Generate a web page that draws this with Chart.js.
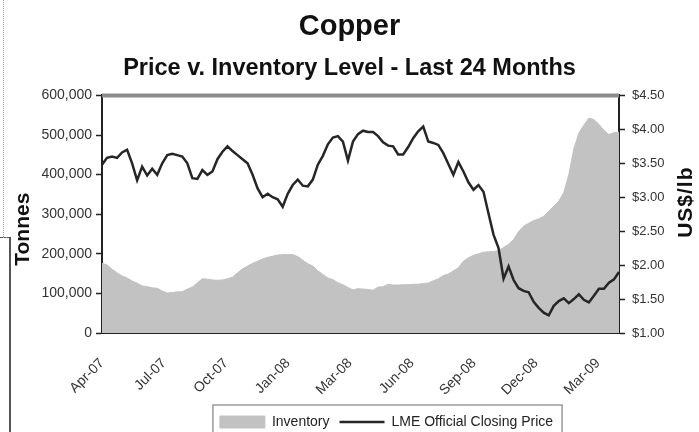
<!DOCTYPE html>
<html>
<head>
<meta charset="utf-8">
<script src="https://cdn.jsdelivr.net/npm/chart.js@4.4.1/dist/chart.umd.min.js"></script>
<style>
  html, body { margin: 0; padding: 0; background: #fff; overflow: hidden; }
  #wrap { position: relative; width: 699px; height: 439px; }
  .edge { position: absolute; }
</style>
</head>
<body>
<div id="wrap">
  <canvas id="chart" width="699" height="439"></canvas>
  <div class="edge" style="left:3px;top:0;height:237px;border-left:1px dotted #9a9a9a;"></div>
  <div class="edge" style="left:0;top:237px;width:10px;border-top:1px dashed #555;"></div>
  <div class="edge" style="left:9px;top:237px;height:202px;border-left:2px solid #555;"></div>
</div>
<script>
const FONT = "'Liberation Sans', Arial, sans-serif";

// weekly readings, Apr-07 .. Mar-09
const inventory = [
  176000, 172000, 161000, 152000, 144000, 139000, 131000, 126000, 119000, 117000,
  114000, 113000, 106000, 101000, 102000, 104000, 104000, 111000, 116000, 127000,
  137000, 136000, 134000, 133000, 134000, 137000, 141000, 152000, 162000, 169000,
  176000, 181000, 187000, 191000, 194000, 197000, 198000, 198000, 198000, 193000,
  184000, 175000, 169000, 157000, 148000, 139000, 135000, 127000, 122000, 115000,
  109000, 112000, 111000, 110000, 108000, 116000, 117000, 123000, 121000, 121000,
  122000, 122000, 123000, 123000, 125000, 126000, 132000, 137000, 145000, 149000,
  157000, 165000, 181000, 190000, 196000, 200000, 204000, 205000, 206000, 208000,
  216000, 224000, 236000, 256000, 270000, 277000, 284000, 288000, 295000, 307000,
  320000, 333000, 355000, 400000, 465000, 505000, 525000, 543000, 539000, 527000,
  512000, 501000, 506000, 507000
];

const price = [
  3.48, 3.58, 3.60, 3.58, 3.66, 3.70, 3.50, 3.25, 3.45, 3.32,
  3.42, 3.33, 3.50, 3.62, 3.64, 3.62, 3.60, 3.50, 3.28, 3.27,
  3.40, 3.33, 3.38, 3.56, 3.67, 3.75, 3.68, 3.62, 3.56, 3.50,
  3.33, 3.13, 3.00, 3.05, 3.00, 2.97, 2.86, 3.05, 3.18, 3.26,
  3.17, 3.16, 3.26, 3.48, 3.61, 3.78, 3.88, 3.90, 3.82, 3.54,
  3.82, 3.93, 3.98, 3.96, 3.96, 3.90, 3.81, 3.76, 3.75, 3.63,
  3.63, 3.74, 3.87, 3.97, 4.04, 3.82, 3.80, 3.77, 3.65, 3.49,
  3.33, 3.52, 3.38, 3.22, 3.11, 3.18, 3.08, 2.76, 2.45, 2.25,
  1.80, 1.98, 1.78, 1.66, 1.62, 1.60, 1.46, 1.37, 1.30, 1.26,
  1.40, 1.47, 1.51, 1.44, 1.50, 1.57, 1.49, 1.45, 1.55, 1.65,
  1.65, 1.74, 1.79, 1.90
];

const tickLabels = ["Apr-07", "Jul-07", "Oct-07", "Jan-08", "Mar-08", "Jun-08", "Sep-08", "Dec-08", "Mar-09"];
const tickWeeks = [0, 12.35, 24.7, 37.05, 49.4, 61.75, 74.1, 86.45, 98.8];

const weeks = price.map((_, i) => i);
const LEGEND_SHIFT = 37;

Chart.defaults.font.family = FONT;

// top frame line, legend border, axis titles
const decor = {
  id: "decor",
  afterLayout(chart) {
    const lg = chart.legend;
    if (lg) {
      lg.left += LEGEND_SHIFT;
      lg.right += LEGEND_SHIFT;
    }
  },
  afterDraw(chart) {
    const { ctx, chartArea: a } = chart;
    ctx.save();
    ctx.strokeStyle = "#8c8c8c";
    ctx.lineWidth = 4;
    ctx.beginPath();
    ctx.moveTo(a.left, a.top);
    ctx.lineTo(a.right, a.top);
    ctx.stroke();

    const hb = chart.legend && chart.legend.legendHitBoxes;
    if (hb && hb.length) {
      const first = hb[0], last = hb[hb.length - 1];
      ctx.strokeStyle = "#9a9a9a";
      ctx.lineWidth = 1.5;
      ctx.strokeRect(first.left - 7, first.top - 10, last.left + last.width - first.left + 16, 60);
    }
    ctx.restore();

    const mid = (a.top + a.bottom) / 2;
    ctx.save();
    ctx.fillStyle = "#111";
    ctx.textAlign = "center";
    ctx.textBaseline = "middle";
    ctx.font = "bold 21px " + FONT;
    ctx.translate(23, mid + 15);
    ctx.rotate(-Math.PI / 2);
    ctx.fillText("Tonnes", 0, 0);
    ctx.restore();

    ctx.save();
    ctx.fillStyle = "#111";
    ctx.textAlign = "center";
    ctx.textBaseline = "middle";
    ctx.font = "bold 21px " + FONT;
    ctx.letterSpacing = "1px";
    ctx.translate(a.right + 67, mid - 12);
    ctx.rotate(-Math.PI / 2);
    ctx.fillText("US$/lb", 0, 0);
    ctx.restore();
  }
};

new Chart(document.getElementById("chart"), {
  type: "line",
  data: {
    labels: weeks,
    datasets: [
      {
        label: "Inventory",
        data: inventory,
        yAxisID: "y",
        backgroundColor: "#c2c2c2",
        borderColor: "#c2c2c2",
        borderWidth: 1,
        fill: "origin",
        pointRadius: 0,
        pointStyle: "rect",
        order: 2
      },
      {
        label: "LME Official Closing Price",
        data: price,
        yAxisID: "y1",
        borderColor: "#262626",
        borderWidth: 2.5,
        fill: false,
        pointRadius: 0,
        pointStyle: "line",
        order: 1
      }
    ]
  },
  options: {
    responsive: false,
    animation: false,
    layout: { padding: 0 },
    plugins: {
      title: {
        display: true,
        text: "Copper",
        color: "#111",
        font: { size: 29, weight: "bold" },
        padding: { top: 10, bottom: 0 }
      },
      subtitle: {
        display: true,
        text: "Price v. Inventory Level - Last 24 Months",
        color: "#111",
        font: { size: 23.5, weight: "bold" },
        padding: { top: 9.6, bottom: 12.8 }
      },
      legend: {
        position: "bottom",
        labels: {
          usePointStyle: true,
          pointStyleWidth: 45,
          boxHeight: 12,
          padding: 10,
          color: "#222",
          font: { size: 14 },
          sort: (a, b) => a.datasetIndex - b.datasetIndex
        }
      },
      tooltip: { enabled: false }
    },
    scales: {
      x: {
        type: "linear",
        min: 0,
        max: 103,
        grid: { display: false },
        border: { color: "#222", width: 2 },
        afterBuildTicks: s => { s.ticks = tickWeeks.map(v => ({ value: v })); },
        afterFit: s => { s.height = 72; },
        ticks: {
          autoSkip: false,
          minRotation: 45,
          maxRotation: 45,
          labelOffset: 0,
          padding: 14,
          color: "#333",
          font: { size: 14 },
          callback: (v, i) => tickLabels[i]
        }
      },
      y: {
        position: "left",
        min: 0,
        max: 600000,
        afterFit: s => { s.width = 102; },
        grid: { drawOnChartArea: false, tickLength: 6, tickColor: "#222", tickWidth: 1.5 },
        border: { color: "#222", width: 2 },
        ticks: {
          stepSize: 100000,
          padding: 4,
          color: "#333",
          font: { size: 14 },
          callback: v => v.toLocaleString("en-US")
        }
      },
      y1: {
        position: "right",
        min: 1,
        max: 4.5,
        afterFit: s => { s.width = 80; },
        grid: { drawOnChartArea: false, tickLength: 6, tickColor: "#222", tickWidth: 1.5 },
        border: { color: "#222", width: 2 },
        ticks: {
          stepSize: 0.5,
          padding: 7,
          color: "#333",
          font: { size: 13 },
          callback: v => "$" + v.toFixed(2)
        }
      }
    }
  },
  plugins: [decor]
});
</script>
</body>
</html>
